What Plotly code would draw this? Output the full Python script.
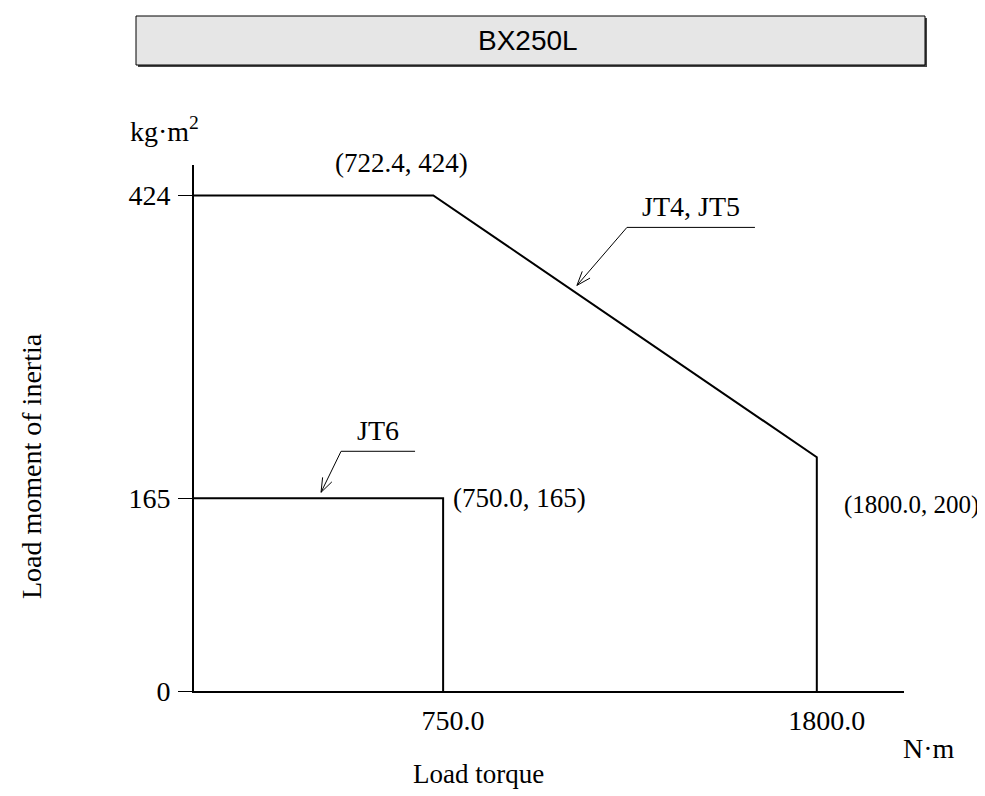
import math
import plotly.graph_objects as go

# envelope for JT4, JT5 and JT6 (load torque N·m vs load moment of inertia kg·m2)
jt45_torque  = [0, 722.4, 1800.0, 1800.0]
jt45_inertia = [424, 424, 200, 0]
jt6_torque   = [0, 750.0, 750.0]
jt6_inertia  = [165, 165, 0]

y_ticks   = [0, 165, 424]
x_ticks   = [750.0, 1800.0]
x_labels  = ['750.0', '1800.0']

corner_labels = [
    # (x, y, text)
    (722.4, 424, '(722.4, 424)'),
    (750.0, 165, '(750.0, 165)'),
    (1800.0, 200, '(1800.0, 200)'),
]

SERIF = 'Liberation Serif, Times New Roman, serif'
W, H = 985, 796
L, R, T, B = 186, 89, 157, 113
PW, PH = W - L - R, H - T - B

def px(xp):
    return (xp - L) / PW

def py(yp):
    return (H - B - yp) / PH

fig = go.Figure()
fig.add_trace(go.Scatter(x = jt45_torque, y = jt45_inertia, mode = 'lines',
                         line = dict(color = 'black', width = 2), name = 'JT4, JT5'))
fig.add_trace(go.Scatter(x = jt6_torque, y = jt6_inertia, mode = 'lines',
                         line = dict(color = 'black', width = 2), name = 'JT6'))

fig.update_layout(
    width = W,
    height = H,
    margin = dict(l = L, r = R, t = T, b = B),
    showlegend = False,
    plot_bgcolor = 'white',
    paper_bgcolor = 'white',
    font = dict(family = SERIF, color = 'black', size = 28),
)
fig.update_xaxes(
    range = [50, 2045],
    showgrid = False,
    zeroline = False,
    showline = True,
    linecolor = 'black',
    linewidth = 2,
    tickvals = x_ticks,
    ticktext = x_labels,
    ticks = '',
    ticklabelstandoff = 3,
    ticklabelshift = 10,
)
fig.update_yaxes(
    range = [0, 450],
    showgrid = False,
    zeroline = False,
    showline = True,
    linecolor = 'black',
    linewidth = 2,
    tickvals = y_ticks,
    ticks = 'outside',
    ticklen = 14,
    tickwidth = 1,
    tickcolor = 'black',
    ticklabelstandoff = 2,
)

# corner value labels
shifts = [dict(xanchor = 'center', xshift = -32, yshift = 32, font = dict(size = 27)),
          dict(xanchor = 'left', xshift = 8, yshift = 0, font = dict(size = 27)),
          dict(xanchor = 'right', xshift = 164, yshift = -48, font = dict(size = 25))]
for (x, y, txt), s in zip(corner_labels, shifts):
    fig.add_annotation(x = x, y = y, text = txt, showarrow = False, yanchor = 'middle', **s)

# callouts: tip position near the curve, tail offset (px), underline length (px)
callouts = [
    ('JT4, JT5', 1126, 347, 50, 58, 128),
    ('JT6', 407, 170, 20, 41, 74),
]
def pxline(x, y, x0, y0, x1, y1):
    fig.add_shape(type = 'line', xref = 'x', yref = 'y', xsizemode = 'pixel', ysizemode = 'pixel',
                  xanchor = x, yanchor = y, x0 = x0, x1 = x1, y0 = y0, y1 = y1,
                  line = dict(color = 'black', width = 1))

for txt, x, y, dx, dy, ulen in callouts:
    # leader + open arrowhead
    pxline(x, y, 0, 0, dx, dy)
    ang = math.atan2(dy, dx)
    for da in (-0.35, 0.35):
        pxline(x, y, 0, 0, 15 * math.cos(ang + da), 15 * math.sin(ang + da))
    # underline
    pxline(x, y, dx, dy, dx + ulen, dy)
    fig.add_annotation(x = x, y = y, text = txt, showarrow = False,
                       xanchor = 'center', yanchor = 'middle',
                       xshift = dx + ulen / 2, yshift = dy + 21)

# units and axis titles
fig.add_annotation(xref = 'paper', yref = 'paper', x = px(156), y = py(122),
                   xanchor = 'center', yanchor = 'middle',
                   text = 'kg·m<sup>2</sup>', showarrow = False)
fig.add_annotation(xref = 'paper', yref = 'paper', x = px(893), y = py(740),
                   xanchor = 'left', yanchor = 'middle',
                   text = 'N·m', showarrow = False)
fig.add_annotation(xref = 'paper', yref = 'paper', x = px(470), y = py(766),
                   xanchor = 'center', yanchor = 'middle',
                   text = 'Load torque', showarrow = False, font = dict(size = 27))
fig.add_annotation(xref = 'paper', yref = 'paper', x = px(23), y = py(458),
                   xanchor = 'center', yanchor = 'middle',
                   text = 'Load moment of inertia', showarrow = False, textangle = -90)

# title box
fig.add_shape(type = 'rect', xref = 'paper', yref = 'paper',
              x0 = px(130), x1 = px(919), y0 = py(59), y1 = py(10),
              fillcolor = '#444444', line = dict(width = 0), layer = 'below')
fig.add_shape(type = 'rect', xref = 'paper', yref = 'paper',
              x0 = px(128), x1 = px(917), y0 = py(57), y1 = py(8),
              fillcolor = '#e6e6e6', line = dict(color = 'black', width = 1))
fig.add_annotation(xref = 'paper', yref = 'paper', x = px(520), y = py(33),
                   xanchor = 'center', yanchor = 'middle',
                   text = 'BX250L', showarrow = False,
                   font = dict(family = 'Liberation Sans, Arial, sans-serif', size = 28))

fig.write_html("out.html")
